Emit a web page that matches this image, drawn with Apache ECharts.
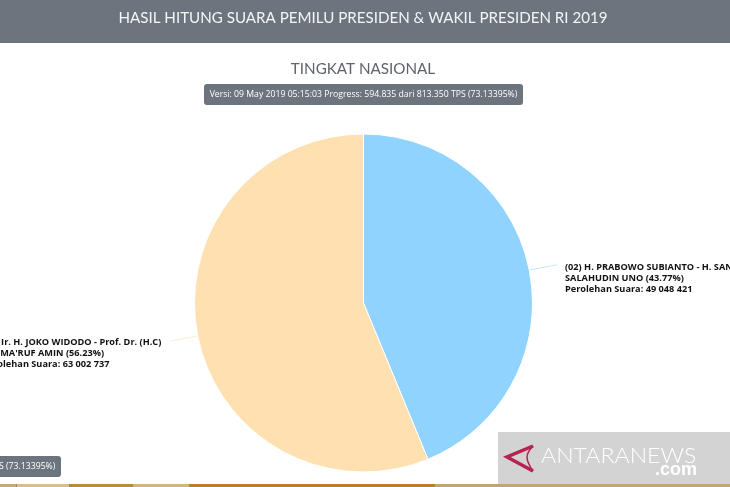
<!DOCTYPE html>
<html>
<head>
<meta charset="utf-8">
<style>
  html, body { margin: 0; padding: 0; background: #fff; overflow: hidden; }
  #chart { width: 730px; height: 487px; }
</style>
<script src="https://cdn.jsdelivr.net/npm/echarts@6/dist/echarts.min.js"></script>
</head>
<body>
<div id="chart"></div>
<script>
const headerText = 'HASIL HITUNG SUARA PEMILU PRESIDEN & WAKIL PRESIDEN RI 2019';
const levelText = 'TINGKAT NASIONAL';
const versionText = 'Versi: 09 May 2019 05:15:03 Progress: 594.835 dari 813.350 TPS (73.13395%)';
const candidates = [
  '(02) H. PRABOWO SUBIANTO - H. SANDIAGA\nSALAHUDIN UNO',
  "(01) Ir. H. JOKO WIDODO - Prof. Dr. (H.C)\nKH. MA'RUF AMIN"
];
const votes = [49048421, 63002737];
const voteLabels = ['49 048 421', '63 002 737'];
const percents = ['43.77', '56.23'];
const colors = ['#8fd3fe', '#ffe0b0'];

const font = '"Open Sans", sans-serif';
const chart = echarts.init(document.getElementById('chart'));

// bottom strip pieces: [x, width, colour]
const strip = [
  [0, 730, '#a88a50'],
  [0, 16, '#c9a873'], [17, 52, '#d9bd8c'], [72, 60, '#b98c3c'], [133, 56, '#d3b27c'],
  [190, 245, '#b9802c'], [435, 295, '#c4a572']
];

chart.setOption({
  animation: false,
  graphic: [
    // header band
    { type: 'rect', z: 0, shape: { x: 0, y: 0, width: 730, height: 43 }, style: { fill: '#6c757d' } },
    { type: 'text', z: 1, x: 363, y: 18, scaleX: 0.946, style: { text: headerText, fill: '#f4f5f6', font: '16px Lato, sans-serif', align: 'center', verticalAlign: 'middle' } },
    { type: 'text', z: 1, x: 363, y: 69, scaleX: 0.95, style: { text: levelText, fill: '#5d646b', font: '16px Lato, sans-serif', align: 'center', verticalAlign: 'middle' } },
    // version badge
    { type: 'rect', z: 0, shape: { x: 204, y: 84, width: 319, height: 21, r: 3 }, style: { fill: '#6c757d' } },
    { type: 'text', z: 1, x: 363.5, y: 94.5, scaleX: 0.914, style: { text: versionText, fill: '#fff', font: '9.5px "Open Sans", sans-serif', align: 'center', verticalAlign: 'middle' } },
    // same badge again, running off the left edge
    { type: 'rect', z: 0, shape: { x: -258, y: 456, width: 319, height: 21, r: 3 }, style: { fill: '#6c757d' } },
    { type: 'text', z: 1, x: -98.5, y: 466.5, scaleX: 0.914, style: { text: versionText, fill: '#fff', font: '9.5px "Open Sans", sans-serif', align: 'center', verticalAlign: 'middle' } },
    // bottom strip
    ...strip.map((s) => ({ type: 'rect', z: 0, shape: { x: s[0], y: 484, width: s[1], height: 3 }, style: { fill: s[2] } })),
    // watermark
    { type: 'rect', z: 5, shape: { x: 498, y: 432, width: 232, height: 52 }, style: { fill: '#d3d3d3' } },
    { type: 'polyline', z: 6, shape: { points: [[533, 446], [507, 457], [533, 471]] }, style: { stroke: '#b5234f', lineWidth: 3.5, fill: null } },
    { type: 'polyline', z: 6, shape: { points: [[533, 446], [527, 457], [533, 471]], smooth: 0.4 }, style: { stroke: '#b5234f', lineWidth: 1.5, fill: null } },
    { type: 'text', z: 6, x: 541, y: 456, scaleX: 1.1, style: { text: 'ANTARANEWS', fill: '#fff', font: '300 21px Lato, sans-serif', align: 'left', verticalAlign: 'middle' } },
    { type: 'text', z: 6, x: 697, y: 470, style: { text: '.com', fill: '#fff', font: 'bold 18px "Liberation Sans", sans-serif', align: 'right', verticalAlign: 'middle' } }
  ],
  series: [{
    type: 'pie',
    center: [363.5, 303],
    radius: [0, 169],
    startAngle: 90,
    clockwise: true,
    silent: true,
    itemStyle: { borderColor: '#fff', borderWidth: 1 },
    label: {
      show: true,
      color: '#111',
      fontFamily: font,
      fontWeight: 'bold',
      fontSize: 9.2,
      lineHeight: 11,
      align: 'left',
      overflow: 'none',
      width: 400,
      formatter: (p) => `${candidates[p.dataIndex]} (${percents[p.dataIndex]}%)\nPerolehan Suara: ${voteLabels[p.dataIndex]}`
    },
    labelLine: { show: true, length: 28, length2: 0, lineStyle: { width: 1 } },
    labelLayout: (p) => {
      // keep the radial line the pie worked out, only the text block moves
      const pts = p.labelLinePoints;
      const line = pts ? { labelLinePoints: [pts[0], pts[1], pts[1]] } : {};
      return p.dataIndex === 0
        ? { x: 565, y: 278, align: 'left', verticalAlign: 'middle', hideOverlap: false, ...line }
        : { x: -18, y: 353, align: 'left', verticalAlign: 'middle', hideOverlap: false, ...line };
    },
    data: votes.map((v, i) => ({ value: v, name: candidates[i], itemStyle: { color: colors[i] }, labelLine: { lineStyle: { color: i === 0 ? '#c5e6fb' : '#ffecd0' } } }))
  }]
});
</script>
</body>
</html>
